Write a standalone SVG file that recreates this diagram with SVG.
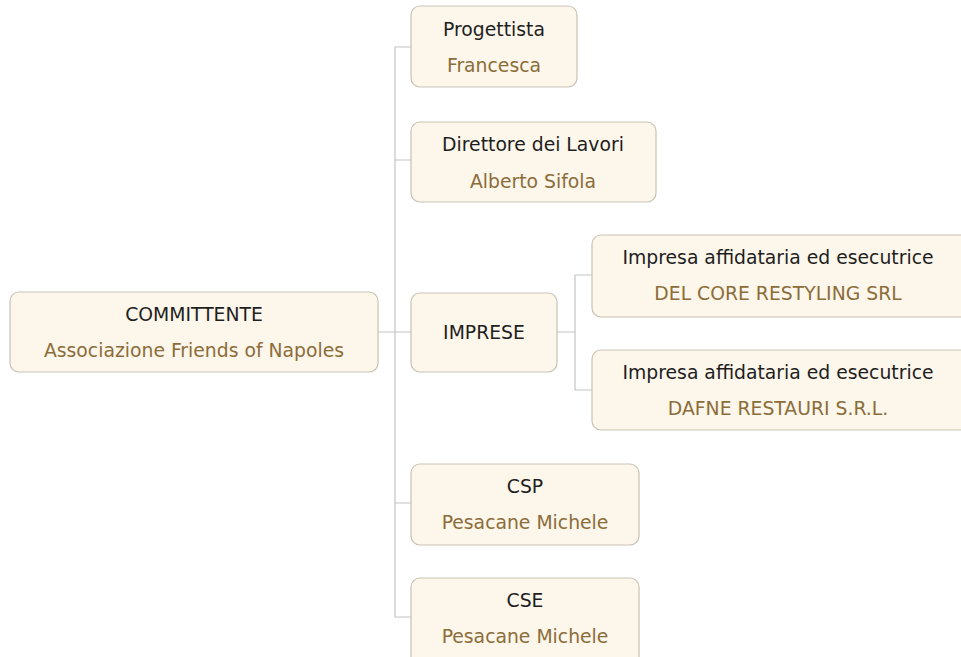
<svg xmlns="http://www.w3.org/2000/svg" width="961" height="657" viewBox="0 0 961 657">
<style>
.box{fill:#fdf6ea;stroke:#c9c2b5;stroke-width:1.2}
.t{font-family:"DejaVu Sans",Verdana,sans-serif;font-size:18.8px;fill:#1e1e1e;text-anchor:middle}
.n{font-family:"DejaVu Sans",Verdana,sans-serif;font-size:18.8px;fill:#8b6d3a;text-anchor:middle}
.c{fill:none;stroke:#c4c4c4;stroke-width:1.2}
</style>
<rect width="961" height="657" fill="#ffffff"/>
<g id="connectors">
<path class="c" d="M378 332H395M395 47V617M395 47H411M395 160H411M395 332H411M395 503H411M395 617H411"/>
<path class="c" d="M557 332H575M575 275V390M575 275H592M575 390H592"/>
</g>
<g id="committente">
<rect class="box" x="10" y="292" width="368" height="80" rx="9"/>
<text class="t" x="194" y="321">COMMITTENTE</text>
<text class="n" x="194" y="357">Associazione Friends of Napoles</text>
</g>
<g id="progettista">
<rect class="box" x="411" y="6" width="166" height="81" rx="9"/>
<text class="t" x="494" y="36">Progettista</text>
<text class="n" x="494" y="72">Francesca</text>
</g>
<g id="direttore">
<rect class="box" x="411" y="122" width="245" height="80" rx="9"/>
<text class="t" x="533" y="151">Direttore dei Lavori</text>
<text class="n" x="533" y="188">Alberto Sifola</text>
</g>
<g id="imprese">
<rect class="box" x="411" y="293" width="146" height="79" rx="9"/>
<text class="t" x="484" y="339">IMPRESE</text>
</g>
<g id="impresa1">
<rect class="box" x="592" y="235" width="380" height="82" rx="9"/>
<text class="t" x="778" y="264">Impresa affidataria ed esecutrice</text>
<text class="n" x="778" y="300">DEL CORE RESTYLING SRL</text>
</g>
<g id="impresa2">
<rect class="box" x="592" y="350" width="380" height="80" rx="9"/>
<text class="t" x="778" y="379">Impresa affidataria ed esecutrice</text>
<text class="n" x="778" y="415">DAFNE RESTAURI S.R.L.</text>
</g>
<g id="csp">
<rect class="box" x="411" y="464" width="228" height="81" rx="9"/>
<text class="t" x="525" y="493">CSP</text>
<text class="n" x="525" y="529">Pesacane Michele</text>
</g>
<g id="cse">
<rect class="box" x="411" y="578" width="228" height="90" rx="9"/>
<text class="t" x="525" y="607">CSE</text>
<text class="n" x="525" y="643">Pesacane Michele</text>
</g>
</svg>
